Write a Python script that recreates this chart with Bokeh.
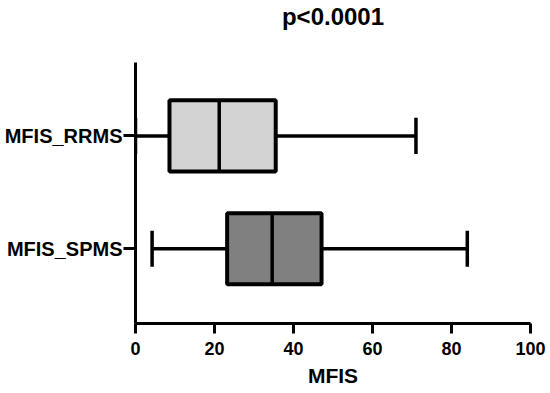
from bokeh.plotting import figure
from bokeh.models import Range1d, FixedTicker, Title
from bokeh.embed import file_html
from bokeh.resources import INLINE

title_text = "p<0.0001"
categories = ["MFIS_SPMS", "MFIS_RRMS"]
positions = [1, 2]
mins = [4.2, 0.0]
q1 = [23.2, 8.6]
medians = [34.6, 21.2]
q3 = [47.1, 35.5]
maxs = [84.0, 71.0]
fills = ["#808080", "#d3d3d3"]
x_ticks = [0, 20, 40, 60, 80, 100]

FONT = "Liberation Sans"
BOX_H = 0.63
CAP_H = 0.32

p = figure(width=548, height=390, output_backend="svg", toolbar_location=None,
           x_range=Range1d(0, 100), y_range=Range1d(0.338, 2.65),
           min_border_left=135, min_border_right=18, min_border_bottom=67, min_border_top=0)
p.title = Title(text=title_text, align="center", standoff=0,
                text_font=FONT, text_font_size="24px", text_font_style="bold",
                text_color="black")
# spacer between title and frame
p.add_layout(Title(text=" ", standoff=0, text_font=FONT, text_font_size="28px"), "above")
p.outline_line_color = None
p.xgrid.visible = False
p.ygrid.visible = False
p.background_fill_color = "white"
p.border_fill_color = "white"

# whiskers
p.segment(x0=mins, y0=positions, x1=q1, y1=positions, line_color="black", line_width=3.5)
p.segment(x0=q3, y0=positions, x1=maxs, y1=positions, line_color="black", line_width=3.5)
# caps
p.segment(x0=mins, y0=[y - CAP_H / 2 for y in positions], x1=mins,
          y1=[y + CAP_H / 2 for y in positions], line_color="black", line_width=3.5)
p.segment(x0=maxs, y0=[y - CAP_H / 2 for y in positions], x1=maxs,
          y1=[y + CAP_H / 2 for y in positions], line_color="black", line_width=3.5)
# boxes
p.hbar(y=positions, left=q1, right=q3, height=BOX_H, fill_color=fills,
       line_color="black", line_width=4)
# medians
p.segment(x0=medians, y0=[y - BOX_H / 2 for y in positions], x1=medians,
          y1=[y + BOX_H / 2 for y in positions], line_color="black", line_width=3.5)

# x axis
xa = p.xaxis[0]
xa.ticker = FixedTicker(ticks=x_ticks)
xa.axis_label = "MFIS"
xa.axis_label_text_font = FONT
xa.axis_label_text_font_size = "21px"
xa.axis_label_text_font_style = "bold"
xa.axis_label_text_color = "black"
xa.axis_label_standoff = 6
xa.major_label_text_font = FONT
xa.major_label_text_font_size = "18px"
xa.major_label_text_font_style = "bold"
xa.major_label_text_color = "black"
xa.major_label_standoff = 8
xa.axis_line_width = 3
xa.axis_line_color = "black"
xa.major_tick_line_width = 3
xa.major_tick_line_color = "black"
xa.major_tick_out = 10
xa.major_tick_in = 0
xa.minor_tick_line_color = None

# y axis
ya = p.yaxis[0]
ya.ticker = FixedTicker(ticks=positions)
ya.major_label_overrides = {pos: name for pos, name in zip(positions, categories)}
ya.major_label_text_font = FONT
ya.major_label_text_font_size = "20px"
ya.major_label_text_font_style = "bold"
ya.major_label_text_color = "black"
ya.major_label_standoff = 1
ya.axis_line_width = 3
ya.axis_line_color = "black"
ya.major_tick_line_width = 3
ya.major_tick_line_color = "black"
ya.major_tick_out = 12
ya.major_tick_in = 0
ya.minor_tick_line_color = None

open("out.html", "w").write(file_html(p, INLINE))
